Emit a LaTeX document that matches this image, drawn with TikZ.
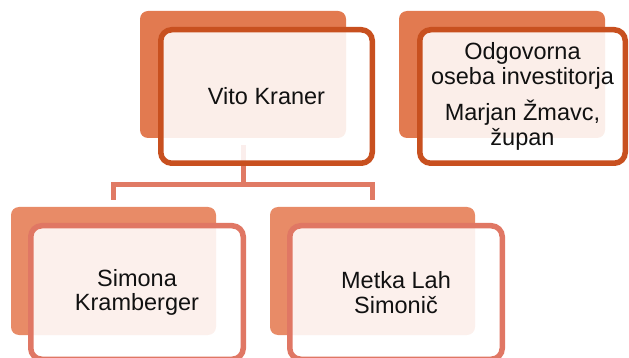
\documentclass[tikz,border=0pt]{standalone}
\usepackage{fontspec}
\setmainfont{Liberation Sans}
\definecolor{topBack}{HTML}{E27A50}
\definecolor{topLine}{HTML}{C8501F}
\definecolor{botBack}{HTML}{E88B67}
\definecolor{botLine}{HTML}{E07764}
\definecolor{connCol}{HTML}{E07A64}
\definecolor{txtCol}{HTML}{111111}
\begin{document}
\begin{tikzpicture}[x=1pt,y=-1pt,
  backbox/.style={rectangle,rounded corners=8pt,inner sep=0pt,outer sep=0pt,draw=none,minimum width=206pt,minimum height=127pt},
  framebox/.style={rectangle,rounded corners=11pt,inner sep=0pt,outer sep=0pt,line width=5.5pt,fill=white,fill opacity=0.88,text opacity=1,text=txtCol,align=center,font=\fontsize{23.5}{24.5}\selectfont},
  conn/.style={draw=connCol,line width=5pt,line join=miter}]
\useasboundingbox (0,0) rectangle (629,358);
\clip (0,0) rectangle (629,358);
% back rectangles
\node[backbox,fill=topBack] (vkb) at (243,74.5) {};
\node[backbox,fill=topBack] (mzb) at (502,74.5) {};
\node[backbox,fill=botBack,minimum width=205pt,minimum height=128pt] (skb) at (113.5,271) {};
\node[backbox,fill=botBack,minimum width=205pt,minimum height=128pt] (mlb) at (372.5,271) {};
% connectors
\coordinate (bus) at (243,184.5);
\draw[conn] ([yshift=-7pt]vkb.south) -- (bus);
\draw[conn] ([yshift=7pt]skb.north) |- (bus) -| ([yshift=7pt]mlb.north);
% front frames
\node[framebox,draw=topLine,minimum width=211.5pt,minimum height=133.5pt] (vk) at (266.5,96.5) {Vito Kraner};
\node[framebox,draw=topLine,minimum width=205.5pt,minimum height=133.5pt] (mz) at (522.5,96.5) {Odgovorna\\oseba investitorja\\[10pt]Marjan Žmavc,\\župan};
\node[framebox,draw=botLine,minimum width=212.5pt,minimum height=133.5pt] (sk) at (137,292.5) {Simona\\Kramberger};
\node[framebox,draw=botLine,minimum width=212.5pt,minimum height=133.5pt] (ml) at (396,292.5) {Metka Lah\\Simonič};
\end{tikzpicture}
\end{document}
